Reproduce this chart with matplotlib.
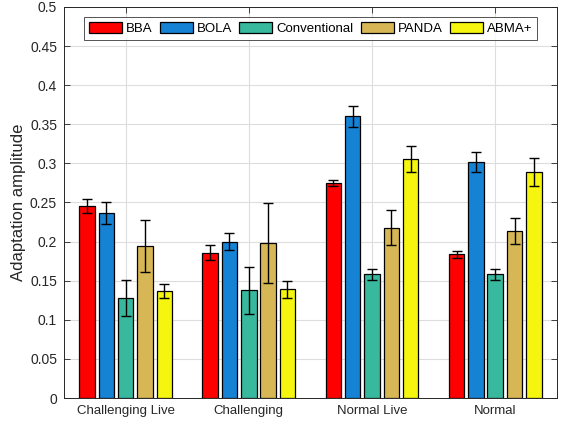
import matplotlib
matplotlib.use("Agg")
import matplotlib.pyplot as plt
import numpy as np

categories = ["Challenging Live", "Challenging", "Normal Live", "Normal"]
series = ["BBA", "BOLA", "Conventional", "PANDA", "ABMA+"]
colors = ["#FF0000", "#1682D4", "#38B99D", "#D7B755", "#F5F50F"]

means = {
    "BBA":          [0.246, 0.186, 0.275, 0.184],
    "BOLA":         [0.236, 0.200, 0.360, 0.302],
    "Conventional": [0.128, 0.138, 0.158, 0.158],
    "PANDA":        [0.194, 0.198, 0.218, 0.214],
    "ABMA+":        [0.137, 0.139, 0.306, 0.289],
}
errors = {
    "BBA":          [0.009, 0.010, 0.0035, 0.0045],
    "BOLA":         [0.014, 0.0105, 0.0135, 0.013],
    "Conventional": [0.023, 0.030, 0.0065, 0.0065],
    "PANDA":        [0.033, 0.051, 0.023, 0.0165],
    "ABMA+":        [0.0085, 0.011, 0.0165, 0.018],
}
yticks = [0, 0.05, 0.1, 0.15, 0.2, 0.25, 0.3, 0.35, 0.4, 0.45, 0.5]
ytick_labels = ["0", "0.05", "0.1", "0.15", "0.2", "0.25", "0.3", "0.35", "0.4", "0.45", "0.5"]

plt.rcParams['font.family'] = ['Liberation Sans', 'DejaVu Sans']

fig = plt.figure(figsize=(5.63, 4.26), dpi=100)
ax = fig.add_axes([0.1137, 0.0657, 0.8753, 0.918])

x = np.arange(1, len(categories) + 1)
pitch = 0.157
width = 0.126
n = len(series)
for i, s in enumerate(series):
    off = (i - (n - 1) / 2) * pitch
    ax.bar(x + off, means[s], width, color=colors[i], edgecolor="black",
           linewidth=0.9, label=s, zorder=3)
    ax.errorbar(x + off, means[s], yerr=errors[s], fmt="none", ecolor="black",
                elinewidth=1.0, capsize=3.5, capthick=1.0, zorder=4)

ax.set_xlim(0.5, 4.5)
ax.set_ylim(0, 0.5)
ax.set_xticks(x)
ax.set_xticklabels(categories)
ax.set_yticks(yticks)
ax.set_yticklabels(ytick_labels)
ax.set_ylabel("Adaptation amplitude", fontsize=12, color="#262626", labelpad=3)

ax.grid(True, color="#DDDDDD", linewidth=0.8, zorder=0)
ax.set_axisbelow(True)
ax.tick_params(direction="in", top=True, right=True, length=4, width=0.6,
               colors="#262626", pad=5)
ax.tick_params(axis="x", labelsize=9.5)
ax.tick_params(axis="y", labelsize=10)
for sp in ax.spines.values():
    sp.set_color("#262626")
    sp.set_linewidth(0.7)

leg = ax.legend(loc="upper center", ncol=5, frameon=True, fancybox=False,
                edgecolor="#262626", fontsize=9.5, handlelength=2.5,
                handleheight=0.95, handletextpad=0.3, columnspacing=0.55,
                borderpad=0.35, bbox_to_anchor=(0.5, 0.99))
leg.get_frame().set_linewidth(0.7)

fig.savefig("out.png", dpi=100)
